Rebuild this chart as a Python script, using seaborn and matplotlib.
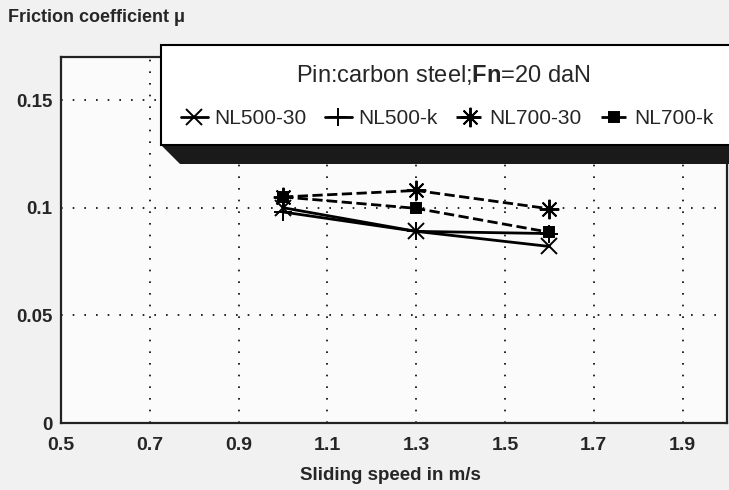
# Friction coefficient vs sliding speed, pin on carbon steel, Fn = 20 daN
import pandas as pd
import matplotlib
matplotlib.use("Agg")
import matplotlib.pyplot as plt
from matplotlib import font_manager
from matplotlib.patches import Rectangle, Polygon
import seaborn as sns

# values
speed = [1.0, 1.3, 1.6]
nl500_30 = [0.100, 0.089, 0.082]
nl500_k = [0.098, 0.089, 0.088]
nl700_30 = [0.105, 0.108, 0.0995]
nl700_k = [0.105, 0.0997, 0.0886]
x_ticks = [0.5, 0.7, 0.9, 1.1, 1.3, 1.5, 1.7, 1.9]
y_ticks = [0, 0.05, 0.1, 0.15]
y_tick_labels = ["0", "0.05", "0.1", "0.15"]

sns.set_style("white")
plt.rcParams["font.family"] = ["Liberation Sans", "DejaVu Sans"]
plt.rcParams["mathtext.fontset"] = "custom"
plt.rcParams["mathtext.bf"] = "Liberation Sans:bold"
plt.rcParams["mathtext.rm"] = "Liberation Sans"

# narrow font for the x tick labels if it is there
try:
    font_manager.findfont("Liberation Sans Narrow", fallback_to_default=False)
    xfont, xsize = "Liberation Sans Narrow", 16
except Exception:
    xfont, xsize = "Liberation Sans", 14

fig = plt.figure(figsize=(7.29, 4.9), dpi=100, facecolor="#f1f1f1")
ax = fig.add_axes([61 / 729, 67 / 490, 666 / 729, 366 / 490])
ax.set_facecolor("#fbfbfb")

series = [
    ("NL500-30", nl500_30, "x", "-", 12),
    ("NL500-k", nl500_k, "+", "-", 13),
    ("NL700-30", nl700_30, (8, 2, 0), "--", 14),
    ("NL700-k", nl700_k, "s", "--", 6.5),
]
for name, vals, mk, ls, ms in series:
    df = pd.DataFrame({"speed": speed, "mu": vals})
    sns.lineplot(data=df, x="speed", y="mu", ax=ax, color="black", linewidth=2.0,
                 linestyle=ls, marker=mk, markersize=ms,
                 markeredgewidth=1.4, markeredgecolor="black", label=name,
                 dashes=(4, 3) if ls == "--" else None)

ax.set_xlim(0.5, 2.0)
ax.set_ylim(0, 0.17)
ax.set_xticks(x_ticks)
ax.set_xticklabels([f"{v:.1f}" for v in x_ticks], fontsize=xsize, fontweight="bold",
                   family=xfont)
ax.set_yticks(y_ticks)
ax.set_yticklabels(y_tick_labels, fontsize=13.5, fontweight="bold")
ax.tick_params(axis="x", length=0, pad=10)
ax.tick_params(axis="y", length=0, pad=6)
ax.grid(True, color="black", linestyle=(0, (1, 6)), linewidth=1.2)
for sp in ax.spines.values():
    sp.set_color("#222222")
    sp.set_linewidth(1.6)
ax.set_xlabel("")
ax.set_ylabel("")

fig.text(8 / 729, 1 - 18 / 490, "Friction coefficient μ", fontsize=13,
         fontweight="bold", va="center", ha="left")
fig.text(390 / 729, 1 - 475 / 490, "Sliding speed in m/s", fontsize=13.5,
         fontweight="bold", va="center", ha="center")

# legend box with shadow
W, H = 729, 490
shadow = Polygon([(161 / W, 1 - 145 / H), (1.0, 1 - 145 / H), (1.0, 1 - 164 / H),
                  (180 / W, 1 - 164 / H)], closed=True, transform=fig.transFigure,
                 facecolor="#1a1a1a", edgecolor="none", zorder=9)
box = Rectangle((161 / W, 1 - 145 / H), 1.0, 100 / H, transform=fig.transFigure,
                facecolor="white", edgecolor="black", linewidth=1.5, zorder=10)
fig.patches.extend([shadow, box])
fig.text(443 / W, 1 - 75 / H, r"Pin:carbon steel;$\mathbf{Fn}$=20 daN", fontsize=17,
         ha="center", va="center", zorder=11)

handles, labels = ax.get_legend_handles_labels()
ax.get_legend().remove()
leg = fig.legend(handles, labels, loc="center", bbox_to_anchor=(447 / W, 1 - 119 / H),
                 ncol=4, frameon=False, fontsize=15, handlelength=1.3,
                 handletextpad=0.3, columnspacing=0.9)
leg.set_zorder(12)

plt.savefig("out.png", dpi=100, facecolor=fig.get_facecolor())
